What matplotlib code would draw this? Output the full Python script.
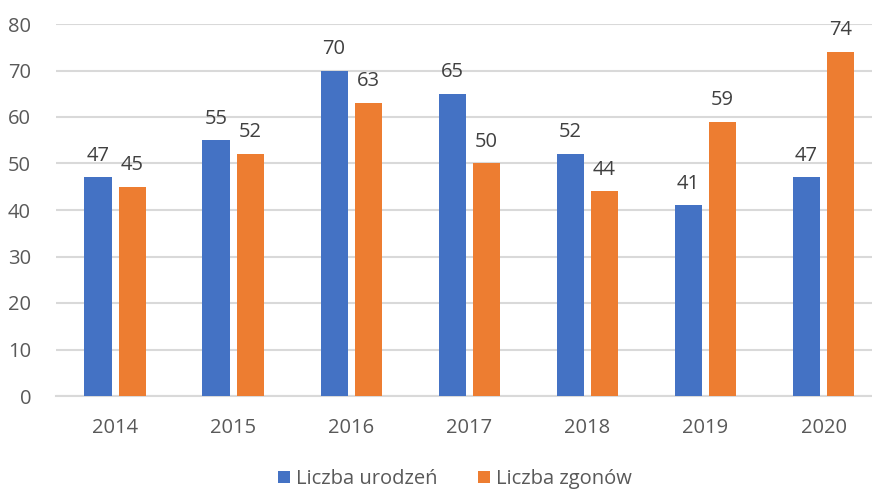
import numpy as np
import matplotlib.pyplot as plt

years = ['2014', '2015', '2016', '2017', '2018', '2019', '2020']
urodzenia = [47, 55, 70, 65, 52, 41, 47]
zgony = [45, 52, 63, 50, 44, 59, 74]

plt.rcParams['font.family'] = ['Open Sans', 'DejaVu Sans']
fs = 14.5

fig = plt.figure(figsize=(8.72, 4.91), dpi=100)
ax = fig.add_axes([56/872, 1-396/491, 1-56/872, (396-24)/491])

x = np.arange(len(years))
w = 0.23
b1 = ax.bar(x - 0.145, urodzenia, w, color='#4472C4', label='Liczba urodzeń', zorder=3)
b2 = ax.bar(x + 0.145, zgony, w, color='#ED7D31', label='Liczba zgonów', zorder=3)

for bars in (b1, b2):
    for r in bars:
        ax.text(r.get_x() + r.get_width()/2, r.get_height() + 3.6, str(int(r.get_height())),
                ha='center', va='baseline', fontsize=fs, color='#404040')

ax.set_ylim(0, 80)
ax.set_xlim(-0.5, 6.41)
ax.set_yticks(range(0, 81, 10))
ax.set_xticks(x)
ax.set_xticklabels(years)
ax.tick_params(axis='both', length=0, labelsize=fs, labelcolor='#595959')
ax.tick_params(axis='x', pad=16)
ax.tick_params(axis='y', pad=18)
ax.grid(axis='y', color='#D9D9D9', linewidth=1.5, zorder=0)
for s in ['top', 'right', 'left']:
    ax.spines[s].set_visible(False)
ax.spines['bottom'].set_color('#D9D9D9')
ax.spines['bottom'].set_linewidth(1.5)

leg = fig.legend(handles=[b1, b2], loc='center', bbox_to_anchor=(455/872, 1-479/491),
                 ncol=2, frameon=False, fontsize=fs, handlelength=0.6, handleheight=0.6,
                 handletextpad=0.3, columnspacing=2.0)
for t in leg.get_texts():
    t.set_color('#595959')

fig.savefig('out.png', dpi=100)
